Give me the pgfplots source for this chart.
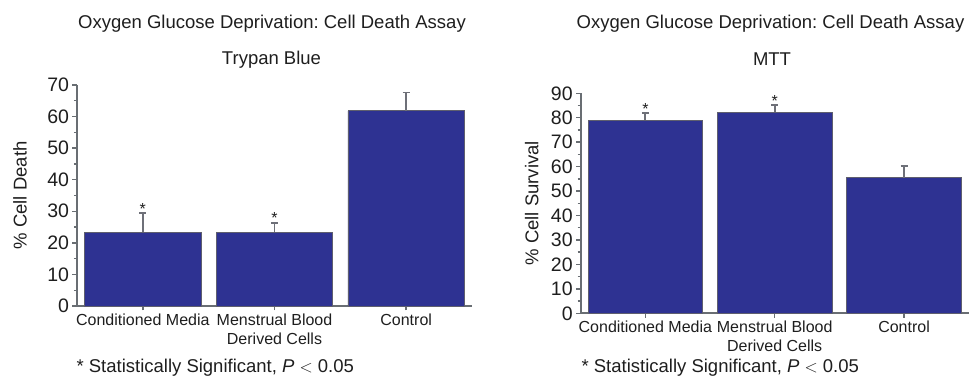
\documentclass[border=0pt]{standalone}
\usepackage{pgfplots}
\pgfplotsset{compat=1.18}
\usepackage{fontspec}
\setmainfont{Liberation Sans}
\frenchspacing
\definecolor{barblue}{RGB}{46,50,146}
\definecolor{axgray}{RGB}{105,110,115}
\definecolor{errgray}{RGB}{110,112,120}
\definecolor{edgegray}{RGB}{95,95,110}
\definecolor{txt}{RGB}{30,30,30}
\pgfplotsset{
  mystyle/.style={
    scale only axis,
    axis lines*=left,
    axis line style={axgray, line width=1.8pt},
    every tick/.style={axgray, line width=1.4pt},
    tick align=outside,
    major tick length=4.5pt,
    minor tick length=3pt,
    minor y tick num=1,
    xmin=-0.5, xmax=2.5, ymin=0,
    enlargelimits=false,
    xtick={0,1,2},
    xticklabels={Conditioned Media,{Menstrual Blood\\Derived Cells},Control},
    xticklabel style={align=center, font=\fontsize{16}{18.7}\selectfont, text=txt},
    yticklabel style={font=\fontsize{19.5}{22}\selectfont, text=txt},
    /pgf/number format/assume math mode=true,
    ylabel style={font=\fontsize{18.5}{22}\selectfont, text=txt, anchor=center},
    clip=false,
  },
  barstyle/.style={ybar, bar width=0.885, fill=barblue, draw=edgegray, line width=0.8pt,
    error bars/.cd, y dir=plus, y explicit,
    error bar style={errgray, line width=1.8pt},
    error mark options={errgray, line width=1.8pt, mark size=3.5pt, rotate=90}},
  starstyle/.style={draw=none, mark=none, nodes near coords={*},
    every node near coord/.append style={anchor=base, yshift=-1pt, font=\fontsize{16}{18}\selectfont, text=txt}},
}
\begin{document}
\begin{tikzpicture}[x=1pt,y=1pt]
\path[use as bounding box] (0,0) rectangle (969,377);
% ---------- left panel ----------
\node[anchor=base, font=\fontsize{18.5}{22}\selectfont, text=txt] at (272,348) {Oxygen Glucose Deprivation: Cell Death Assay};
\node[anchor=base, font=\fontsize{18.5}{22}\selectfont, text=txt] at (271.5,312) {Trypan Blue};
\begin{axis}[mystyle, at={(77pt,71pt)}, anchor=south west,
  width=395pt, height=221pt, ymax=70, ytick={0,10,...,70},
  ylabel={\% Cell Death},
  ylabel style={at={(axis description cs:-0.144,0.5)}}]
\addplot[barstyle] coordinates {(0,23.3) +- (0,6.1) (1,23.3) +- (0,3.1) (2,61.8) +- (0,5.8)};
\addplot[starstyle] coordinates {(0,29.4) (1,26.4)};
\end{axis}
\node[anchor=base west, font=\fontsize{18.5}{22}\selectfont, text=txt] at (73,4) {* Statistically Significant, \textit{P} $<$ 0.05};
% ---------- right panel ----------
\node[anchor=base, font=\fontsize{18.5}{22}\selectfont, text=txt] at (770.5,348) {Oxygen Glucose Deprivation: Cell Death Assay};
\node[anchor=base, font=\fontsize{18.5}{22}\selectfont, text=txt] at (772,311) {MTT};
\begin{axis}[mystyle, at={(580.7pt,63.7pt)}, anchor=south west,
  width=388pt, height=220pt, ymax=90, ytick={0,10,...,90},
  ylabel={\% Cell Survival},
  ylabel style={at={(axis description cs:-0.126,0.5)}}]
\addplot[barstyle] coordinates {(0,79.0) +- (0,2.8) (1,82.2) +- (0,2.9) (2,55.4) +- (0,4.9)};
\addplot[starstyle] coordinates {(0,81.8) (1,85.1)};
\end{axis}
\node[anchor=base west, font=\fontsize{18.5}{22}\selectfont, text=txt] at (578,4) {* Statistically Significant, \textit{P} $<$ 0.05};
\end{tikzpicture}
\end{document}
